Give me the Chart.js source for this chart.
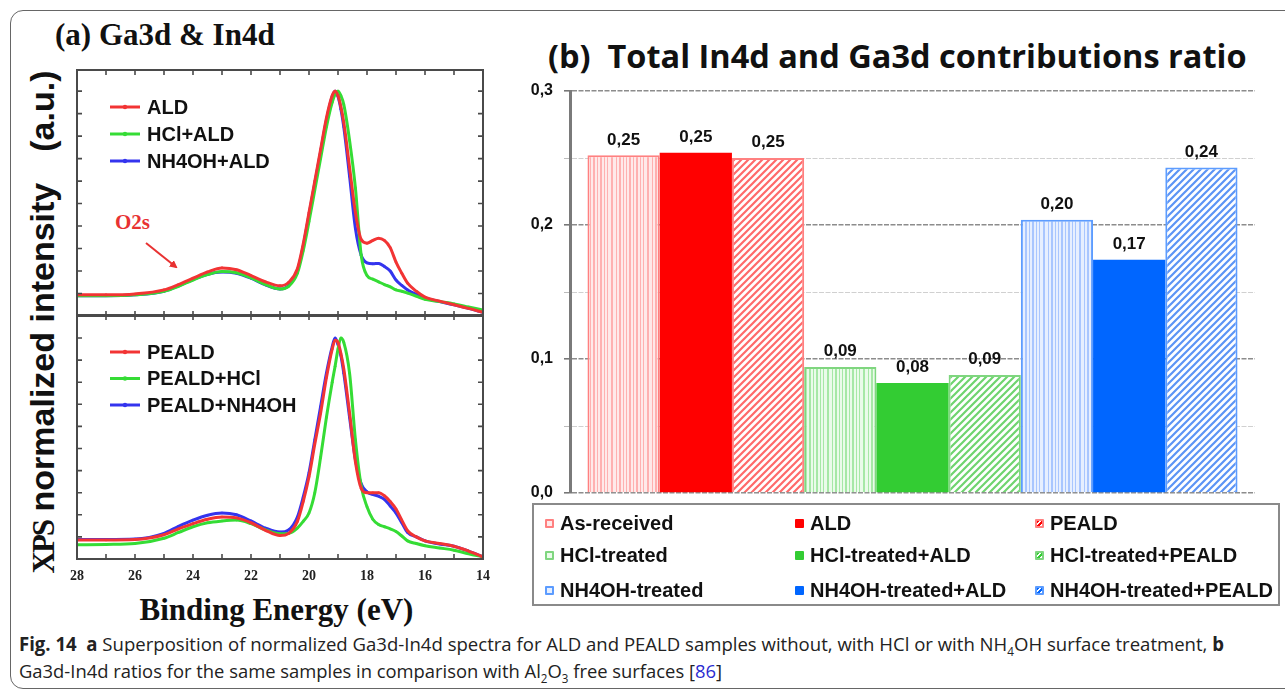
<!DOCTYPE html>
<html><head><meta charset="utf-8">
<script src="https://cdn.jsdelivr.net/npm/chart.js@4"></script>
<style>
html,body{margin:0;padding:0;background:#fff;}
body{width:1285px;height:697px;position:relative;overflow:hidden;font-family:"Liberation Sans",Arial,sans-serif;}
.frame{position:absolute;left:10px;top:10px;width:1320px;height:679px;border:1.5px solid #666;border-radius:13px;box-sizing:border-box;}
.abs{position:absolute;}
#titleA{left:55px;top:19px;font:bold 31px/31px "Liberation Serif","Times New Roman",serif;color:#111;white-space:nowrap;}
#titleB{left:548px;top:37px;font:bold 32.5px/38px "Open Sans",sans-serif;color:#111;white-space:nowrap;}
#ylab{left:-210px;top:305px;width:503px;height:34px;transform:rotate(-90deg);display:flex;justify-content:space-between;align-items:baseline;color:#111;white-space:nowrap;font:bold 34px/34px "Liberation Sans",Arial,sans-serif;}
#ylab .serif{font-family:"Liberation Serif","Times New Roman",serif;font-size:31px;letter-spacing:-2px;}
#xlab{left:70px;top:594px;width:413px;text-align:center;font:bold 31px/31px "Liberation Serif","Times New Roman",serif;color:#111;white-space:nowrap;}
#o2s{left:115px;top:212px;font:bold 21px/21px "Liberation Serif","Times New Roman",serif;color:#e83232;}
#legB{left:532px;top:503px;width:748px;height:103px;border:2px solid #8a8a8a;box-sizing:border-box;}
.li{position:absolute;height:22px;display:flex;align-items:center;font:bold 20px/22px "Liberation Sans",Arial,sans-serif;color:#111;white-space:nowrap;}
.mk{width:9px;height:9px;margin-right:6px;box-sizing:border-box;border-radius:1px;flex:none;}
.cap{position:absolute;left:19px;font:19px/22px "Liberation Sans Narrow","Open Sans",sans-serif;color:#222;white-space:nowrap;transform-origin:0 0;}
.cap b{font-weight:bold;}
.cap .ref{color:#2a2ad0;}
canvas{position:absolute;}
</style></head>
<body>
<div class="frame"></div>
<div id="titleA" class="abs">(a) Ga3d &amp; In4d</div>
<div id="titleB" class="abs">(b)&nbsp; Total In4d and Ga3d contributions ratio</div>
<div id="ylab" class="abs"><span><span class="serif">XPS</span> normalized intensity</span><span>(a.u.)</span></div>
<div id="xlab" class="abs">Binding Energy (eV)</div>
<div id="o2s" class="abs">O2s</div>
<svg class="abs" style="left:0;top:0" width="300" height="300">
 <defs><marker id="ah" markerWidth="8" markerHeight="8" refX="6" refY="4" orient="auto" markerUnits="userSpaceOnUse"><path d="M0,0 L8,4 L0,8 z" fill="#e83232"/></marker></defs>
 <line x1="146" y1="243" x2="176" y2="267" stroke="#e83232" stroke-width="2" marker-end="url(#ah)"/>
</svg>
<canvas id="cTop" width="446" height="286" style="left:57px;top:50px"></canvas>
<canvas id="cBot" width="446" height="305" style="left:57px;top:295px"></canvas>
<canvas id="cBar" width="765" height="425" style="left:520px;top:80px"></canvas>
<div id="legB" class="abs"></div>
<div class="cap" id="cap1" style="top:633px"><b>Fig. 14&nbsp; a</b> Superposition of normalized Ga3d-In4d spectra for ALD and PEALD samples without, with HCl or with NH<sub style="font-size:12px">4</sub>OH surface treatment, <b>b</b></div>
<div class="cap" id="cap2" style="top:660px">Ga3d-In4d ratios for the same samples in comparison with Al<sub style="font-size:12px">2</sub>O<sub style="font-size:12px">3</sub> free surfaces [<span class="ref">86</span>]</div>
<script>
// ---------- DATA ----------
const energy = [28,27,26,25,24.5,24,23.5,23,22.5,22,21.5,21,20.7,20.4,20.2,20,19.8,19.6,19.4,19.2,19.1,19.0,18.9,18.8,18.6,18.4,18.2,18.0,17.8,17.6,17.4,17.2,17.0,16.8,16.6,16.3,16.0,15.5,15,14.5,14];
const topLabels = ['ALD','HCl+ALD','NH4OH+ALD'];
const topALD      = [0.47,0.47,0.49,0.58,0.70,0.84,0.98,1.07,1.03,0.90,0.76,0.67,0.75,1.05,1.6,2.3,3.0,3.7,4.4,4.9,5.0,4.9,4.65,4.3,3.3,2.3,1.7,1.62,1.68,1.73,1.68,1.52,1.2,0.95,0.73,0.55,0.42,0.33,0.25,0.17,0.08];
const topHClALD   = [0.45,0.45,0.47,0.55,0.66,0.80,0.92,0.99,0.96,0.85,0.70,0.60,0.66,0.95,1.45,2.1,2.8,3.5,4.2,4.75,4.93,5.0,4.9,4.7,3.9,2.85,1.35,0.9,0.82,0.76,0.70,0.65,0.58,0.55,0.51,0.44,0.37,0.32,0.27,0.20,0.13];
const topNH4OHALD = [0.45,0.45,0.47,0.55,0.67,0.81,0.93,0.98,0.95,0.84,0.69,0.60,0.68,1.0,1.55,2.25,2.95,3.65,4.35,4.88,5.0,4.88,4.6,4.2,3.1,1.95,1.35,1.18,1.16,1.17,1.1,1.0,0.8,0.68,0.58,0.48,0.40,0.32,0.25,0.17,0.08];
const botLabels = ['PEALD','PEALD+HCl','PEALD+NH4OH'];
const botPEALD      = [0.43,0.43,0.44,0.55,0.68,0.80,0.90,0.95,0.93,0.82,0.65,0.53,0.58,0.85,1.3,1.86,2.6,3.3,4.1,4.75,4.95,4.9,4.65,4.3,3.3,2.2,1.6,1.5,1.5,1.5,1.43,1.3,1.13,0.88,0.64,0.5,0.41,0.35,0.29,0.18,0.05];
const botPEALDHCl   = [0.32,0.33,0.35,0.47,0.60,0.73,0.82,0.86,0.88,0.80,0.66,0.57,0.58,0.70,0.85,1.04,1.5,2.3,3.2,4.0,4.36,4.75,5.0,4.9,4.2,2.7,1.65,1.18,0.9,0.78,0.73,0.68,0.62,0.52,0.41,0.35,0.30,0.25,0.20,0.12,0.05];
const botPEALDNH4OH = [0.44,0.44,0.45,0.58,0.74,0.88,0.99,1.04,1.0,0.86,0.70,0.61,0.66,0.95,1.4,1.95,2.7,3.45,4.2,4.8,5.0,4.85,4.6,4.2,3.2,2.25,1.7,1.52,1.46,1.42,1.35,1.2,1.04,0.82,0.6,0.5,0.41,0.34,0.29,0.18,0.05];
const energyTicks = [14,16,18,20,22,24,26,28];

const barLabels = ['As-received','ALD','PEALD','HCl-treated','HCl-treated+ALD','HCl-treated+PEALD','NH4OH-treated','NH4OH-treated+ALD','NH4OH-treated+PEALD'];
const barValues = [0.252,0.254,0.250,0.094,0.082,0.088,0.204,0.174,0.243];
const ratioTicks = [0,0.1,0.2,0.3];

// ---------- STYLE ----------
const lineColors = ['#f23434','#35dc35','#3434ee'];
const hues = [
  {solid:'#ff0000', light:'#ffe9e9', stripe:'#ffb0b0', edge:'#ff8080', hatch:'#ff6a6a'},
  {solid:'#33cc33', light:'#eafbea', stripe:'#a6e8a6', edge:'#7fd67f', hatch:'#6fd46f'},
  {solid:'#0066ff', light:'#e6efff', stripe:'#a8c6ff', edge:'#5c9cff', hatch:'#5c94f5'}
];
function stripePattern(bg, col){
  const c=document.createElement('canvas'); c.width=36; c.height=8;
  const g=c.getContext('2d'); g.fillStyle=bg; g.fillRect(0,0,36,8); g.fillStyle=col;
  [[1,2],[5,1],[8,2],[12,1],[15,1],[19,2],[24,1],[27,2],[31,1],[34,1]].forEach(([x,w])=>g.fillRect(x,0,w,8));
  return g.createPattern(c,'repeat');
}
function hatchPattern(bg, col){
  const s=7, c=document.createElement('canvas'); c.width=s; c.height=s;
  const g=c.getContext('2d'); g.fillStyle=bg; g.fillRect(0,0,s,s);
  g.strokeStyle=col; g.lineWidth=2.2; g.beginPath();
  g.moveTo(0,s); g.lineTo(s,0); g.moveTo(-1,1); g.lineTo(1,-1); g.moveTo(s-1,s+1); g.lineTo(s+1,s-1); g.stroke();
  return g.createPattern(c,'repeat');
}
// fit the plotted value range to target pixel rows (canvas coordinates) by adjusting layout padding
function fitVertical(chart, yTop, yBottom){
  const p=chart.config.options.layout.padding;
  for(let k=0;k<3;k++){
    const s=chart.scales.y, top=s.getPixelForValue(s.max), bot=s.getPixelForValue(s.min);
    p.top=Math.max(0,p.top+yTop-top); p.bottom=Math.max(0,p.bottom+bot-yBottom);
    chart.update();
  }
}

// ---------- LEFT PANEL ----------
function makeSets(labels, series){
  return series.map((vals,i)=>({label:labels[i], data:energy.map((e,k)=>({x:e,y:vals[k]})),
    borderColor:lineColors[i], backgroundColor:lineColors[i], borderWidth:3, pointRadius:1.3, pointBorderWidth:0,
    cubicInterpolationMode:'monotone', fill:false}));
}
const framePlugin = {id:'frame', afterDraw(chart){
  const {ctx, chartArea:a, scales:{x,y}} = chart;
  ctx.save(); ctx.strokeStyle='#4a4a4a'; ctx.lineWidth=2;
  ctx.strokeRect(a.left,a.top,a.right-a.left,a.bottom-a.top);
  ctx.lineWidth=1.6; ctx.beginPath();
  for(let e=Math.ceil(x.min)+1; e<x.max; e+=1){const p=x.getPixelForValue(e); ctx.moveTo(p,a.top); ctx.lineTo(p,a.top+5); ctx.moveTo(p,a.bottom); ctx.lineTo(p,a.bottom-5);}
  for(let v=0.5; v<y.max; v+=0.5){const p=y.getPixelForValue(v); ctx.moveTo(a.left,p); ctx.lineTo(a.left+5,p); ctx.moveTo(a.right,p); ctx.lineTo(a.right-5,p);}
  ctx.stroke(); ctx.restore();
}};
const inLegend = {id:'inLegend', afterDraw(chart, args, opts){
  const {ctx, chartArea:a} = chart;
  ctx.save(); ctx.font='bold 20px "Liberation Sans", Arial, sans-serif'; ctx.textBaseline='middle';
  chart.data.datasets.forEach((ds,i)=>{
    const yy=a.top+opts.top+i*opts.gap, x0=a.left+33, x1=a.left+63;
    ctx.strokeStyle=ds.borderColor; ctx.lineWidth=3; ctx.beginPath(); ctx.moveTo(x0,yy); ctx.lineTo(x1,yy); ctx.stroke();
    ctx.fillStyle=ds.borderColor; ctx.beginPath(); ctx.arc((x0+x1)/2,yy,2.2,0,Math.PI*2); ctx.fill();
    ctx.fillStyle='#111'; ctx.fillText(ds.label, a.left+70, yy+1);
  });
  ctx.restore();
}};
function lineChart(id, labels, series, yMax, showX, legTop, legGap){
  const xOpts = {type:'linear', reverse:true, min:14, max:28, display:showX,
     grid:{display:false, drawTicks:false}, border:{display:false},
     afterBuildTicks(s){s.ticks=energyTicks.map(v=>({value:v}));},
     ticks:{padding:9, color:'#222', font:{family:'"Liberation Serif", serif', weight:'bold', size:14}}};
  if(showX) xOpts.afterFit = s=>{s.height=41;};
  return new Chart(document.getElementById(id), {
    type:'line',
    data:{datasets:makeSets(labels, series)},
    options:{responsive:false, animation:false, events:[],
      layout:{padding:{left:20,right:20,top:20,bottom:showX?0:20}},
      plugins:{legend:{display:false}, tooltip:{enabled:false}, inLegend:{top:legTop,gap:legGap}},
      scales:{ x:xOpts, y:{min:0, max:yMax, display:false} }},
    plugins:[framePlugin, inLegend]
  });
}
const topChart = lineChart('cTop', topLabels, [topALD, topHClALD, topNH4OHALD], 5.47, false, 37, 27);
const botChart = lineChart('cBot', botLabels, [botPEALD, botPEALDHCl, botPEALDNH4OH], 5.52, true, 37, 26.5);
fitVertical(topChart, 20, 266);
fitVertical(botChart, 20, 264);

// ---------- RIGHT PANEL ----------
function barStyle(i){
  const h=hues[Math.floor(i/3)], k=i%3;
  if(k===1) return {backgroundColor:h.solid, borderColor:h.solid, borderWidth:0};
  if(k===0) return {backgroundColor:stripePattern(h.light,h.stripe), borderColor:h.edge, borderWidth:2};
  return {backgroundColor:hatchPattern('#ffffff',h.hatch), borderColor:h.edge, borderWidth:2};
}
const isMajor = v => Math.abs(v*10-Math.round(v*10))<1e-6;
const valueLabels = {id:'valueLabels', afterDatasetsDraw(chart){
  const ctx=chart.ctx; ctx.save(); ctx.font='bold 17px "Liberation Sans", Arial, sans-serif';
  ctx.fillStyle='#111'; ctx.textAlign='center'; ctx.textBaseline='bottom';
  chart.data.datasets.forEach((ds,i)=>{const el=chart.getDatasetMeta(i).data[0];
    ctx.fillText(ds.data[0].toFixed(2).replace('.',','), el.x, el.y-7);});
  ctx.restore();
}};
const barChart = new Chart(document.getElementById('cBar'), {
  type:'bar',
  data:{labels:[''], datasets:barLabels.map((lab,i)=>Object.assign({label:lab, data:[barValues[i]], barPercentage:1, categoryPercentage:0.949, borderSkipped:'bottom'}, barStyle(i)))},
  options:{responsive:false, animation:false, events:[],
    layout:{padding:{left:0,right:30,top:11,bottom:12}},
    plugins:{legend:{display:false}, tooltip:{enabled:false}},
    scales:{
      x:{display:false},
      y:{min:0, max:0.3, afterFit(s){s.width=50; s.paddingTop=0; s.paddingBottom=0;},
        ticks:{stepSize:0.05, autoSkip:false, padding:11, color:'#111', font:{family:'"Liberation Sans", Arial', weight:'bold', size:16},
          callback:v=> ratioTicks.some(t=>Math.abs(t-v)<1e-6) ? v.toFixed(1).replace('.',',') : ''},
        grid:{color:c=>isMajor(c.tick.value)?'#8c8c8c':'#d0d0d0', lineWidth:c=>isMajor(c.tick.value)?1.6:1, tickLength:6,
              tickColor:c=>isMajor(c.tick.value)?'#777':'#bbb'},
        border:{color:'#7a7a7a', width:3, dash:[5,1.5]}
      }
    }},
  plugins:[valueLabels]
});
fitVertical(barChart, 11, 413);

// HTML legend built from chart datasets
(function(){
  const box=document.getElementById('legB');
  const cols=[11,261,501], rows=[7,39,74];
  barChart.data.datasets.forEach((ds,i)=>{
    const h=hues[Math.floor(i/3)], k=i%3;
    const it=document.createElement('div'); it.className='li';
    it.style.left=cols[k]+'px'; it.style.top=rows[Math.floor(i/3)]+'px';
    const m=document.createElement('span'); m.className='mk';
    if(k===1){m.style.background=h.solid;}
    else if(k===0){m.style.background=h.light; m.style.border='2px solid '+h.edge;}
    else {m.style.background='repeating-linear-gradient(-45deg,#fff 0 1.5px,'+h.solid+' 1.5px 4px)'; m.style.border='2px solid '+h.edge;}
    it.appendChild(m); it.appendChild(document.createTextNode(ds.label)); box.appendChild(it);
  });
})();

// caption width fitting
[['cap1',1205],['cap2',703]].forEach(([id,w])=>{const el=document.getElementById(id); const r=el.getBoundingClientRect().width; el.style.transform='scaleX('+(w/r)+')';});
</script>
</body></html>
